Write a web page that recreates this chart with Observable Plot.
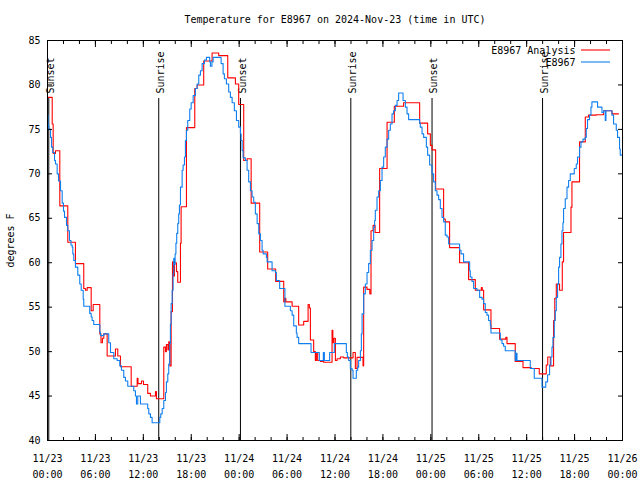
<!DOCTYPE html>
<html>
<head>
<meta charset="utf-8">
<script src="https://cdn.jsdelivr.net/npm/d3@7"></script>
<script src="https://cdn.jsdelivr.net/npm/@observablehq/plot@0.6"></script>
<style>
  html, body { margin: 0; padding: 0; background: #fff; }
</style>
</head>
<body>
<div id="chart"></div>
<script>
// ---- data (hours since 2024-11-23 00:00 UTC, degrees F) ----
const titleText = "Temperature for E8967 on 2024-Nov-23 (time in UTC)";
const seriesNames = ["E8967 Analysis", "E8967"];

const analysisHours = [0,0.59,0.71,1.0,1.54,2.54,3.5,4.54,4.76,4.97,5.47,5.72,6.55,6.7,6.88,7.05,7.47,8.51,8.8,9.14,10.48,11.23,11.33,11.77,12.02,12.55,12.89,13.52,13.64,14.56,14.77,14.89,15.08,15.18,15.31,15.48,15.65,15.77,15.9,16.15,16.31,16.65,16.73,17.4,18.44,18.74,19.56,20.61,21.44,22.57,23.53,23.94,24.57,24.99,25.5,26.57,27.57,28.57,29.58,29.73,29.85,30.63,31.45,32.08,32.63,32.79,32.92,33.33,33.54,33.67,33.83,34.17,34.58,35.63,35.73,35.86,36.05,36.26,36.67,37.09,38.26,38.55,38.76,39.51,39.59,40.01,40.36,40.51,40.77,41.02,41.59,42.52,43.43,44.59,46.6,47.6,47.94,48.15,48.6,49.6,49.81,50.35,51.6,52.73,53.57,54.32,54.44,54.61,55.53,56.61,57.39,57.54,58.57,59.54,60.58,61.58,62.45,62.64,62.96,63.37,63.52,63.71,64.12,64.46,64.62,65.55,65.67,66.62,67.34,67.75,68.71,69.63,70.68,71.5];
const analysisTemps = [78.6,75.6,72.3,72.6,66.4,62.3,59.9,57.1,56.9,57.2,54.6,55.3,52.0,51.0,51.5,52.0,49.5,50.3,49.5,48.3,46.1,47.0,46.4,46.7,46.3,45.3,45.0,45.5,44.7,50.5,50.0,50.8,50.2,51.1,48.4,54.5,60.1,58.5,60.0,59.0,57.8,62.2,66.3,75.2,79.6,80.0,82.7,83.6,83.3,80.8,80.1,77.8,71.5,71.7,66.7,61.2,59.3,57.9,55.6,56.0,55.6,55.1,53.0,53.4,55.3,54.9,51.3,50.0,49.0,49.9,49.0,48.9,48.8,52.4,51.0,51.5,49.0,49.2,49.4,49.3,49.9,48.1,49.35,48.4,57.25,57.0,56.5,63.6,64.2,63.4,70.6,75.8,77.6,78.0,75.7,74.5,73.2,72.7,68.3,64.9,64.6,61.7,60.0,58.1,56.9,57.2,56.9,54.7,52.6,51.4,51.6,50.9,48.9,48.2,48.1,47.5,48.5,49.4,48.4,53.5,56.0,57.6,56.9,60.1,63.4,66.25,69.1,73.6,76.4,76.6,76.65,77.1,76.75,76.75];

const obsHours = [0,0.06,0.16,0.38,0.5,0.66,0.88,1.0,1.21,1.38,1.63,1.84,2.0,2.13,2.38,2.54,2.75,2.94,3.09,3.17,3.29,3.5,3.79,4.04,4.22,4.47,4.54,5.29,5.47,5.59,5.79,6.55,6.63,7.05,7.67,7.89,8.3,8.72,9.05,9.26,9.55,9.76,10.05,10.8,11.01,11.14,11.3,11.64,12.55,12.68,12.89,13.1,14.06,14.18,14.36,14.56,14.77,14.89,15.06,15.18,15.31,15.39,15.48,15.61,15.73,15.81,15.9,15.98,16.08,16.18,16.31,16.43,16.52,16.65,16.86,16.98,17.15,17.27,17.4,17.56,17.81,17.99,18.24,18.52,18.74,18.94,19.15,19.36,19.65,19.9,20.31,20.4,20.59,20.74,21.74,21.99,22.15,22.4,22.69,22.9,23.12,23.4,23.66,23.94,24.16,24.24,24.37,24.49,24.78,24.99,25.19,25.41,25.62,25.82,26.03,26.25,26.45,26.66,26.87,27.0,27.41,27.5,28.12,28.54,28.66,29.07,29.73,30.41,30.63,30.83,31.16,31.25,31.45,33.0,34.04,34.54,34.67,35.33,35.92,37.42,37.55,37.71,37.92,38.14,38.26,38.67,38.84,38.96,39.18,39.3,39.39,39.59,39.8,40.01,40.21,40.43,40.64,40.84,40.96,41.05,41.26,41.47,41.68,41.89,42.09,42.3,42.52,42.72,42.93,43.14,43.34,43.56,43.77,43.97,44.52,44.81,45.02,45.22,46.6,46.68,46.9,47.1,47.44,47.6,47.85,48.15,48.35,48.56,48.77,48.98,49.19,49.4,49.6,49.81,50.03,50.23,51.6,51.78,52.1,52.86,52.94,53.15,53.36,53.78,54.11,54.41,54.61,54.82,55.03,55.23,55.45,55.53,56.7,56.91,57.11,57.32,58.57,58.66,58.79,60.45,60.95,61.92,62.39,62.62,62.87,63.04,63.17,63.29,63.46,63.58,63.71,63.87,64.0,64.12,64.29,64.42,64.54,64.62,64.83,65.05,65.25,65.46,65.96,66.21,66.37,66.62,66.8,67.05,67.34,67.46,67.62,67.87,68.05,68.17,68.88,69.43,69.63,69.84,69.93,70.68,70.88,71.22,71.38,71.63,71.72,72.0];
const obsTemps = [76.6,75.5,75.0,74.1,73.0,72.4,71.5,71.1,70.0,69.2,68.1,66.7,65.8,65.1,64.2,63.6,62.5,62.0,61.75,61.0,60.25,59.5,58.6,57.6,56.9,55.9,55.1,54.3,53.9,53.5,53.05,52.2,51.8,52.0,51.0,49.9,49.2,49.0,48.4,47.9,47.1,46.7,46.1,45.6,45.0,44.1,45.0,44.1,43.6,43.0,42.6,42.0,42.6,43.0,43.6,44.5,45.4,46.6,47.5,48.6,50.9,53.1,55.4,56.9,58.75,60.5,59.8,61.0,62.2,63.3,64.4,65.5,66.5,68.5,70.4,71.0,71.9,73.75,74.9,76.0,77.3,78.0,78.8,79.6,80.1,81.1,81.6,82.4,82.8,83.1,82.6,82.1,82.6,83.1,82.4,81.25,80.7,80.1,79.2,78.6,78.0,77.1,76.0,75.25,74.5,73.75,72.6,71.8,71.5,70.4,69.1,68.1,67.4,66.8,65.5,64.4,63.25,62.5,61.4,61.0,60.6,60.1,59.1,58.9,58.0,57.1,55.1,54.6,54.1,52.9,52.1,51.6,50.9,49.9,49.0,49.9,49.0,49.9,50.9,49.9,49.4,49.0,48.1,47.9,47.0,47.9,48.25,49.0,50.1,52.0,54.25,56.5,57.6,58.9,59.9,61.4,62.5,64.0,64.75,65.9,67.4,68.1,69.25,70.75,71.9,73.0,73.9,74.9,75.6,76.75,77.1,77.7,78.25,79.1,78.25,77.5,76.75,76.1,75.7,75.25,74.5,74.1,73.0,72.1,71.0,70.0,69.1,68.1,67.6,67.1,66.1,65.1,64.6,63.1,62.9,62.1,61.4,61.0,60.1,59.1,58.4,57.9,57.1,56.9,56.1,55.9,55.4,54.4,54.1,53.5,53.0,52.1,51.3,50.9,50.6,50.1,49.0,49.8,49.0,48.1,47.0,46.0,46.6,47.4,48.5,49.4,50.5,51.6,53.5,54.6,56.1,57.6,59.5,60.6,62.1,63.6,64.5,66.1,67.2,68.5,69.25,70.0,70.6,71.1,71.9,73.0,73.6,73.9,74.1,75.1,76.1,76.6,77.5,78.1,77.5,76.9,77.1,76.0,77.1,76.6,75.6,74.9,74.1,72.8,72.1,72.0];

const sunHours = [0.16, 13.93, 24.16, 37.98, 48.15, 61.99];
const sunLabels = ["Sunset", "Sunrise", "Sunset", "Sunrise", "Sunset", "Sunrise"];

const majorTickHours = [0,6,12,18,24,30,36,42,48,54,60,66,72];
const minorTickHours = [0,2,4,6,8,10,12,14,16,18,20,22,24,26,28,30,32,34,36,38,40,42,44,46,48,50,52,54,56,58,60,62,64,66,68,70,72];
const yTicks = [40,45,50,55,60,65,70,75,80,85];

// ---- build tables ----
const t0 = Date.UTC(2024, 10, 23, 0, 0);
const toDate = h => new Date(t0 + h * 3600000);
const analysis = analysisHours.map((h, i) => ({date: toDate(h), temp: analysisTemps[i]}));
const obs = obsHours.map((h, i) => ({date: toDate(h), temp: obsTemps[i]}));
const sun = sunHours.map((h, i) => ({date: toDate(h), label: sunLabels[i]}));
const majorTicks = majorTickHours.map(toDate);
const minorTicks = minorTickHours.map(toDate);
const pad = n => String(n).padStart(2, "0");
const fmt = d => `${pad(d.getUTCMonth() + 1)}/${pad(d.getUTCDate())}\n${pad(d.getUTCHours())}:${pad(d.getUTCMinutes())}`;

const RED = "#ff0000";
const BLUE = "#0f7fef";

const svg = Plot.plot({
  width: 640,
  height: 480,
  marginLeft: 47,
  marginRight: 18,
  marginTop: 40,
  marginBottom: 40,
  style: {fontFamily: "'DejaVu Sans Mono', monospace", fontSize: "10px", background: "#fff", color: "#000", overflow: "visible"},
  x: {type: "utc", domain: [toDate(0), toDate(72)], axis: null},
  y: {domain: [40, 85], axis: null},
  marks: [
    Plot.ruleX(sun, {x: "date", insetTop: 58, stroke: "#000", strokeWidth: 1}),
    Plot.text(sun, {x: "date", text: "label", frameAnchor: "top", rotate: -90, textAnchor: "start", lineAnchor: "middle", dy: 53, dx: 2, fill: "#000"}),
    Plot.line(analysis, {x: "date", y: "temp", curve: "step-after", stroke: RED, strokeWidth: 1.1}),
    Plot.line(obs, {x: "date", y: "temp", curve: "step-after", stroke: BLUE, strokeWidth: 1.1}),
    Plot.frame({stroke: "#000", strokeWidth: 1}),
    Plot.axisX(minorTicks, {anchor: "bottom", tickSize: -3, fill: "none", label: null}),
    Plot.axisX(minorTicks, {anchor: "top", tickSize: -3, fill: "none", label: null}),
    Plot.axisX(majorTicks, {anchor: "bottom", tickSize: -6, fill: "none", label: null}),
    Plot.axisX(majorTicks, {anchor: "top", tickSize: -6, fill: "none", label: null}),
    Plot.axisX(majorTicks, {anchor: "bottom", tickSize: 0, tickPadding: 10, tickFormat: fmt, lineHeight: 1.6, label: null}),
    Plot.axisY(yTicks, {anchor: "left", tickSize: -5, fill: "none", label: null}),
    Plot.axisY(yTicks, {anchor: "right", tickSize: -5, fill: "none", label: null}),
    Plot.axisY(yTicks, {anchor: "left", tickSize: 0, tickPadding: 7, label: "degrees F", labelAnchor: "center", labelOffset: 41, labelArrow: "none"}),
    Plot.text([titleText], {frameAnchor: "top", dy: -21, lineAnchor: "middle", fill: "#000"}),
    Plot.text([seriesNames[0]], {frameAnchor: "top-right", dx: -47, dy: 10, textAnchor: "end", lineAnchor: "middle", fill: "#000"}),
    Plot.text([seriesNames[1]], {frameAnchor: "top-right", dx: -47, dy: 22, textAnchor: "end", lineAnchor: "middle", fill: "#000"})
  ]
});

// legend key samples
const s = d3.select(svg);
const W = 640, mr = 18, mt = 40;
[[RED, mt + 10], [BLUE, mt + 22]].forEach(([c, y]) => {
  s.append("line").attr("x1", W - mr - 41).attr("x2", W - mr - 12)
    .attr("y1", y).attr("y2", y).attr("stroke", c).attr("stroke-width", 1.1);
});

document.getElementById("chart").appendChild(svg);
</script>
</body>
</html>
